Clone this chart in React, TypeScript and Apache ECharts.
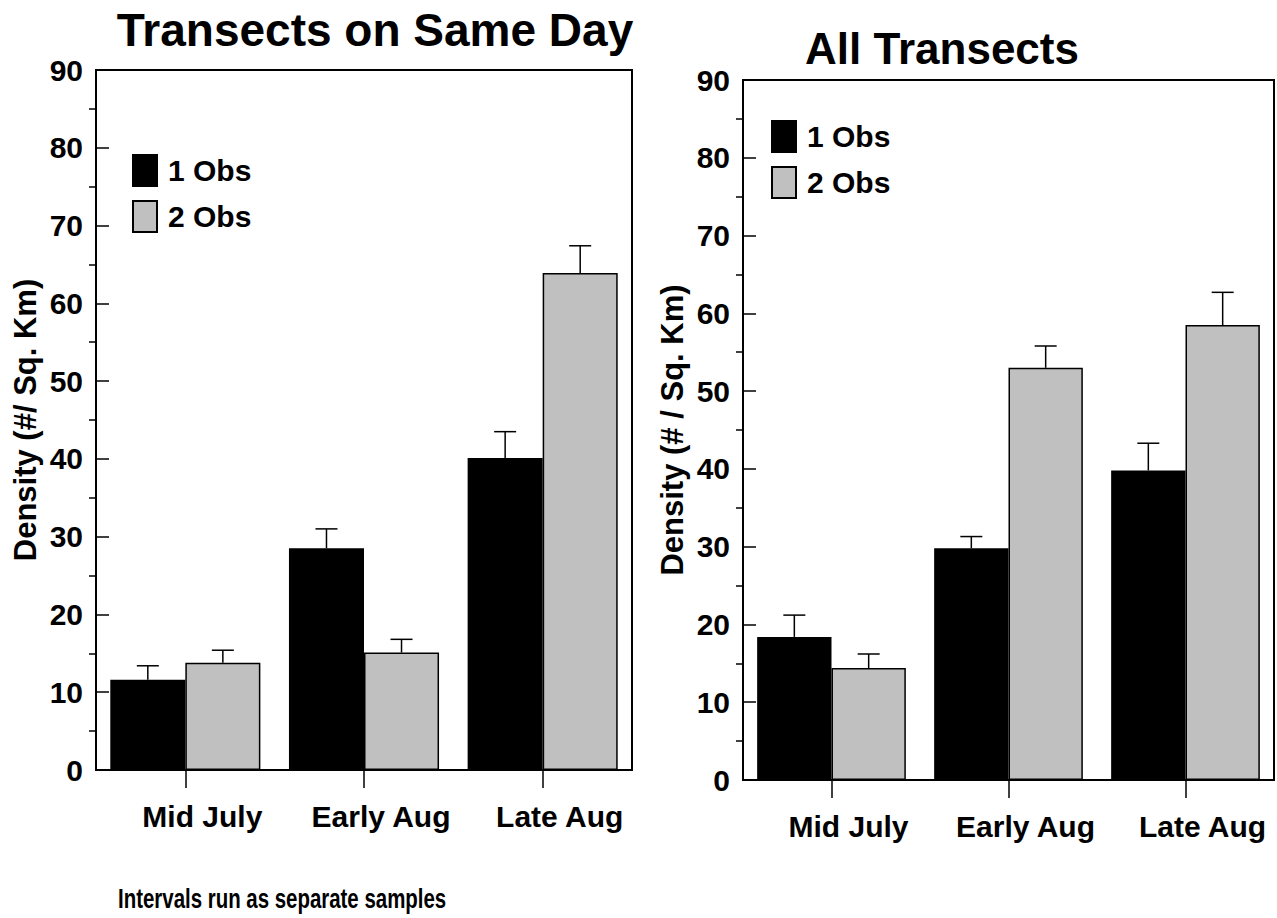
import React, { useEffect, useRef } from "react";
import * as echarts from "echarts";

const categories = ["Mid July", "Early Aug", "Late Aug"];
const seriesNames = ["1 Obs", "2 Obs"];

// Panel 1: Transects on Same Day
const sameDayOne = [11.6, 28.5, 40.1];
const sameDayOneErr = [13.4, 31.0, 43.5];
const sameDayTwo = [13.8, 15.1, 63.9];
const sameDayTwoErr = [15.4, 16.8, 67.4];

// Panel 2: All Transects
const allOne = [18.4, 29.8, 39.8];
const allOneErr = [21.2, 31.3, 43.3];
const allTwo = [14.4, 53.0, 58.5];
const allTwoErr = [16.2, 55.8, 62.7];

const majorTicks = [0, 10, 20, 30, 40, 50, 60, 70, 80, 90];
const minorTicks = [5, 15, 25, 35, 45, 55, 65, 75, 85];

const FONT = "'Liberation Sans', Arial, Helvetica, sans-serif";
const GAP = 0.16;

function errRender(side: number) {
  return (params: any, api: any) => {
    const cat = api.value(0);
    const v = api.value(1);
    const e = api.value(2);
    const base = api.coord([cat, v]);
    const top = api.coord([cat, e]);
    const bw = api.size([1, 0])[0];
    const barW = (bw * (1 - GAP)) / 2;
    const x = base[0] + (side * barW) / 2;
    return {
      type: "group",
      children: [
        {
          type: "line",
          shape: { x1: x, y1: base[1], x2: x, y2: top[1] },
          style: { stroke: "#000", lineWidth: 1.5 },
        },
        {
          type: "line",
          shape: { x1: x - 11, y1: top[1], x2: x + 11, y2: top[1] },
          style: { stroke: "#000", lineWidth: 1.5 },
        },
      ],
    };
  };
}

function errData(vals: number[], errs: number[]) {
  return vals.map((v, i) => [i, v, errs[i]]);
}

export default function App() {
  const ref = useRef<HTMLDivElement>(null);
  useEffect(() => {
    if (!ref.current) return;
    const chart = echarts.init(ref.current, null, { renderer: "svg" });

    const grids = [
      { left: 96, top: 70, width: 536, height: 700 },
      { left: 743, top: 80, width: 531, height: 700 },
    ];

    const xAxes: any[] = [];
    const yAxes: any[] = [];
    const yNames = ["Density (#/ Sq. Km)", "Density (# / Sq. Km)"];
    grids.forEach((_, gi) => {
      xAxes.push({
        type: "category",
        gridIndex: gi,
        data: categories,
        axisLine: { show: true, lineStyle: { color: "#000", width: 2 } },
        axisTick: { show: true, alignWithLabel: true, length: 18, lineStyle: { color: "#000", width: 1.5 } },
        axisLabel: {
          interval: 0,
          hideOverlap: false,
          color: "#000",
          fontSize: 30,
          fontWeight: "bold",
          fontFamily: FONT,
          margin: 31,
          padding: [0, 0, 0, 34],
        },
        splitLine: { show: false },
      });
      yAxes.push({
        type: "value",
        gridIndex: gi,
        position: "left",
        min: 0,
        max: 90,
        interval: 10,
        name: yNames[gi],
        nameLocation: "middle",
        nameGap: 55,
        nameTextStyle: { color: "#000", fontSize: 31, fontWeight: "bold", fontFamily: FONT },
        axisLine: { show: true, lineStyle: { color: "#000", width: 2 } },
        axisTick: { show: true, inside: true, length: 13, lineStyle: { color: "#000", width: 1.5 } },
        axisLabel: {
          color: "#000",
          fontSize: 30,
          fontWeight: "bold",
          fontFamily: FONT,
          margin: 13,
          customValues: majorTicks,
        },
        splitLine: { show: false },
      });
    });
    // minor (outward) ticks
    grids.forEach((_, gi) => {
      yAxes.push({
        type: "value",
        gridIndex: gi,
        position: "left",
        min: 0,
        max: 90,
        axisLine: { show: false },
        axisTick: { show: true, inside: false, length: 7, customValues: minorTicks, lineStyle: { color: "#000", width: 1.5 } },
        axisLabel: { show: false },
        splitLine: { show: false },
      });
    });

    const barStyle = (color: string) => ({ color, borderColor: "#000", borderWidth: 1.5 });
    const panels = [
      { one: sameDayOne, two: sameDayTwo, oneErr: sameDayOneErr, twoErr: sameDayTwoErr },
      { one: allOne, two: allTwo, oneErr: allOneErr, twoErr: allTwoErr },
    ];
    const series: any[] = [];
    panels.forEach((p, gi) => {
      series.push({
        type: "bar",
        name: seriesNames[0],
        xAxisIndex: gi,
        yAxisIndex: gi,
        data: p.one,
        barGap: "0%",
        barCategoryGap: GAP * 100 + "%",
        itemStyle: barStyle("#000"),
      });
      series.push({
        type: "bar",
        name: seriesNames[1],
        xAxisIndex: gi,
        yAxisIndex: gi,
        data: p.two,
        barGap: "0%",
        barCategoryGap: GAP * 100 + "%",
        itemStyle: barStyle("#c0c0c0"),
      });
      series.push({
        type: "custom",
        xAxisIndex: gi,
        yAxisIndex: gi,
        renderItem: errRender(-1),
        encode: { x: 0, y: [1, 2] },
        data: errData(p.one, p.oneErr),
        z: 5,
      });
      series.push({
        type: "custom",
        xAxisIndex: gi,
        yAxisIndex: gi,
        renderItem: errRender(1),
        encode: { x: 0, y: [1, 2] },
        data: errData(p.two, p.twoErr),
        z: 5,
      });
    });

    const legendBase = {
      orient: "vertical",
      icon: "rect",
      padding: 0,
      itemWidth: 24,
      itemHeight: 31,
      itemGap: 13,
      selectedMode: false,
      data: seriesNames,
      textStyle: { color: "#000", fontSize: 30, fontWeight: "bold", fontFamily: FONT, padding: [0, 0, 0, 6] },
    };

    chart.setOption({
      animation: false,
      textStyle: { fontFamily: FONT },
      grid: grids.map((g) => ({ ...g, show: true, borderColor: "#000", borderWidth: 2, containLabel: false })),
      xAxis: xAxes,
      yAxis: yAxes,
      legend: [
        { ...legendBase, left: 132, top: 154 },
        { ...legendBase, left: 771, top: 120 },
      ],
      series,
      graphic: [
        {
          type: "text",
          x: 375,
          y: 30,
          style: {
            text: "Transects on Same Day",
            fill: "#000",
            font: `bold 46px ${FONT}`,
            textAlign: "center",
            textVerticalAlign: "middle",
          },
        },
        {
          type: "text",
          x: 942,
          y: 48,
          style: {
            text: "All Transects",
            fill: "#000",
            font: `bold 44px ${FONT}`,
            textAlign: "center",
            textVerticalAlign: "middle",
          },
        },
        {
          type: "text",
          x: 118,
          y: 898,
          scaleX: 0.73,
          style: {
            text: "Intervals run as separate samples",
            fill: "#000",
            font: `bold 28px ${FONT}`,
            textAlign: "left",
            textVerticalAlign: "middle",
          },
        },
      ],
    });
    return () => chart.dispose();
  }, []);
  return (
    <div
      ref={ref}
      style={{ position: "absolute", left: 0, top: 0, width: 1277, height: 918, background: "#fff" }}
    />
  );
}
